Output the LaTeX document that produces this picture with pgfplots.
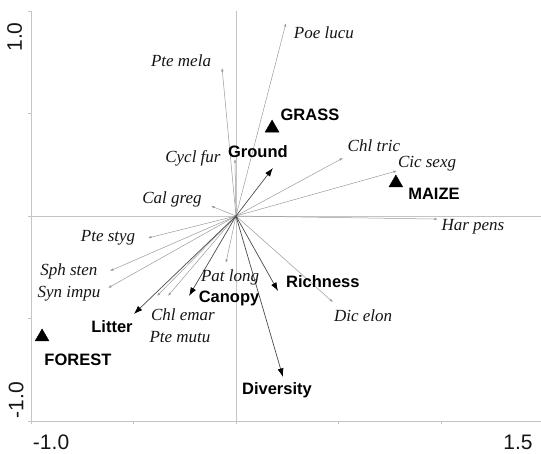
\documentclass[border=0pt]{standalone}
\usepackage{pgfplots}
\pgfplotsset{compat=1.18}
\usepackage{fontspec}
\setmainfont{Liberation Serif}
\newfontfamily\lsans{Liberation Sans}
\usetikzlibrary{arrows.meta}

\definecolor{axisgray}{HTML}{C4C4C4}
\definecolor{arrgray}{HTML}{9A9A9A}
\definecolor{envgray}{HTML}{4A4A4A}
\definecolor{txt}{HTML}{151515}

\tikzset{
    spec/.style={font=\fontsize{17bp}{19bp}\selectfont\itshape, text=txt, inner sep=0pt},
    env/.style={font=\lsans\bfseries\fontsize{16.5bp}{18bp}\selectfont, text=black, inner sep=0pt},
    tl/.style={font=\lsans\fontsize{21bp}{23bp}\selectfont, text=txt, inner sep=0pt},
}

% species scores (arrows from origin)
\pgfplotstableread{
x y u v
0 0 -0.068 0.722
0 0 0.244 0.941
0 0 -0.005 0.278
0 0 -0.122 0.049
0 0 0.522 0.283
0 0 0.785 0.220
0 0 0.985 -0.015
0 0 -0.429 -0.107
0 0 -0.615 -0.268
0 0 -0.624 -0.351
0 0 -0.385 -0.390
0 0 -0.332 -0.390
0 0 -0.049 -0.229
0 0 0.473 -0.420
}\species

% environmental variables
\pgfplotstableread{
x y u v
0 0 0.180 0.234
0 0 -0.498 -0.478
0 0 -0.229 -0.390
0 0 0.205 -0.366
0 0 0.229 -0.785
}\envvars

\begin{document}
\begin{tikzpicture}
\begin{axis}[
    scale only axis,
    width=510bp, height=410bp,
    xmin=-1, xmax=1.488,
    ymin=-1, ymax=1,
    axis x line=bottom,
    axis y line=left,
    axis line style={-, draw=axisgray, line width=0.6bp},
    xtick={-1,-0.5,0,0.5,1},
    ytick={-1,-0.5,0,0.5,1},
    xticklabels={}, yticklabels={},
    tick align=outside,
    major tick length=3bp,
    tick style={draw=axisgray, line width=0.6bp},
    clip=false,
]
\coordinate (sw) at (rel axis cs:0,0);
\coordinate (ne) at (rel axis cs:1,1);

% zero lines
\addplot[axisgray, line width=0.6bp] coordinates {(0,-1) (0,1)};
\addplot[axisgray, line width=0.6bp] coordinates {(-1,0) (1.488,0)};

% species arrows
\addplot[arrgray, line width=0.5bp, quiver={u=\thisrow{u}, v=\thisrow{v}},
    -{Latex[length=3.5bp, width=2.5bp]}] table[x=x, y=y] {\species};

% environmental arrows
\addplot[envgray, line width=0.7bp, quiver={u=\thisrow{u}, v=\thisrow{v}},
    -{Latex[length=8.5bp, width=6bp, color=black]}] table[x=x, y=y] {\envvars};

% land-use centroids
\addplot[only marks, mark=triangle*, mark size=8bp, black]
    coordinates {(0.176,0.429) (0.780,0.161) (-0.946,-0.590)};

% species labels
\node[spec] at (axis cs:-0.268,0.756) {Pte mela};
\node[spec] at (axis cs:0.429,0.893) {Poe lucu};
\node[spec] at (axis cs:-0.210,0.283) {Cycl fur};
\node[spec] at (axis cs:-0.312,0.083) {Cal greg};
\node[spec] at (axis cs:0.673,0.341) {Chl tric};
\node[spec] at (axis cs:0.932,0.254) {Cic sexg};
\node[spec] at (axis cs:1.156,-0.054) {Har pens};
\node[spec] at (axis cs:-0.624,-0.107) {Pte styg};
\node[spec] at (axis cs:-0.815,-0.268) {Sph sten};
\node[spec] at (axis cs:-0.815,-0.380) {Syn impu};
\node[spec] at (axis cs:-0.029,-0.298) {Pat long};
\node[spec] at (axis cs:-0.259,-0.483) {Chl emar};
\node[spec] at (axis cs:-0.273,-0.590) {Pte mutu};
\node[spec] at (axis cs:0.620,-0.488) {Dic elon};

% variable and centroid labels
\node[env] at (axis cs:0.361,0.493) {GRASS};
\node[env] at (axis cs:0.107,0.312) {Ground};
\node[env] at (axis cs:0.966,0.107) {MAIZE};
\node[env] at (axis cs:-0.034,-0.400) {Canopy};
\node[env] at (axis cs:-0.605,-0.541) {Litter};
\node[env] at (axis cs:-0.771,-0.702) {FOREST};
\node[env] at (axis cs:0.424,-0.322) {Richness};
\node[env] at (axis cs:0.200,-0.849) {Diversity};

% tick labels
\node[tl, rotate=90] at (axis cs:-1.080,0.873) {1.0};
\node[tl, rotate=90] at (axis cs:-1.073,-0.898) {-1.0};
\node[tl] at (axis cs:-0.902,-1.102) {-1.0};
\node[tl] at (axis cs:1.376,-1.102) {1.5};
\end{axis}
\pgfresetboundingbox
\path[use as bounding box] ([shift={(-31bp,-33bp)}]sw) rectangle ([shift={(0bp,11bp)}]ne);
\end{tikzpicture}
\end{document}
